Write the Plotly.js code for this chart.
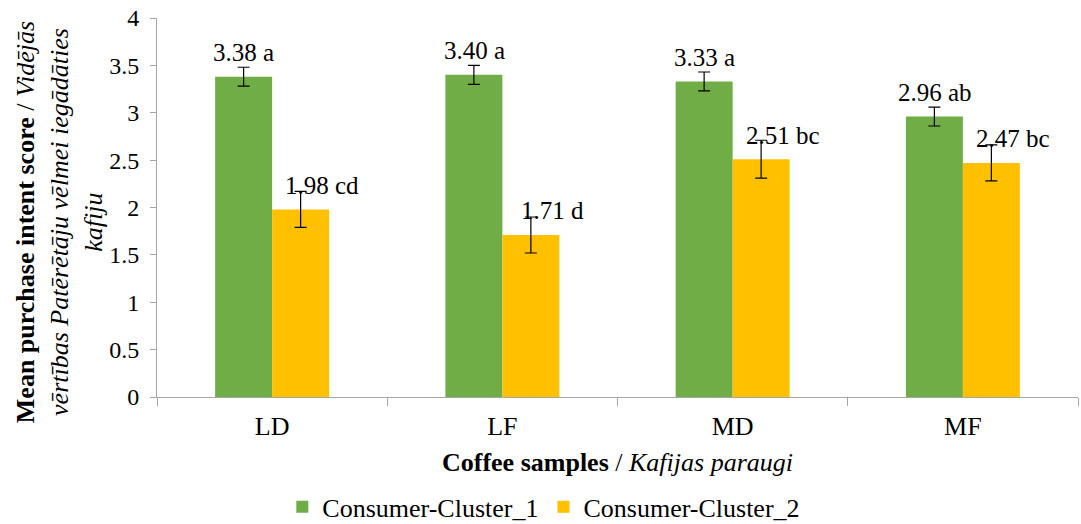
<!DOCTYPE html>
<html>
<head>
<meta charset="utf-8">
<script src="https://cdn.plot.ly/plotly-3.0.1.min.js"></script>
<style>html,body{margin:0;padding:0;background:#fff}#chart{width:1081px;height:524px}</style>
</head>
<body>
<div id="chart"></div>
<script>
const categories = ["LD", "LF", "MD", "MF"];
const seriesNames = ["Consumer-Cluster_1", "Consumer-Cluster_2"];
const cluster1 = [3.38, 3.40, 3.33, 2.96];
const cluster2 = [1.98, 1.71, 2.51, 2.47];
const cluster1Err = [0.10, 0.10, 0.10, 0.10];
const cluster2Err = [0.19, 0.19, 0.20, 0.19];
const cluster1Letters = ["a", "a", "a", "ab"];
const cluster2Letters = ["cd", "d", "bc", "bc"];
const yTicks = [0, 0.5, 1, 1.5, 2, 2.5, 3, 3.5, 4];
const yTitle = "<b>Mean purchase intent score</b> / <i>Vidējās</i><br><i>vērtības Patērētāju vēlmei iegādāties</i><br><i>kafiju</i>";

const FONT = "Liberation Serif";
const colors = ["#70AD47", "#FFC000"];

const traces = [
  {type: "bar", name: seriesNames[0], x: categories, y: cluster1,
   marker: {color: colors[0]},
   error_y: {type: "data", array: cluster1Err, visible: true, color: "#000", thickness: 1.2, width: 6}},
  {type: "bar", name: seriesNames[1], x: categories, y: cluster2,
   marker: {color: colors[1]},
   error_y: {type: "data", array: cluster2Err, visible: true, color: "#000", thickness: 1.2, width: 6}}
];

const annotations = [];
categories.forEach((c, i) => {
  annotations.push({x: i - 0.123, y: cluster1[i], xref: "x", yref: "y",
    text: cluster1[i].toFixed(2) + " " + cluster1Letters[i], showarrow: false,
    yanchor: "middle", xanchor: "center", yshift: 24,
    font: {family: FONT, size: 25, color: "#000"}});
  annotations.push({x: i + 0.123, y: cluster2[i], xref: "x", yref: "y",
    text: cluster2[i].toFixed(2) + " " + cluster2Letters[i], showarrow: false,
    yanchor: "middle", xanchor: "center", yshift: 24, xshift: 22,
    font: {family: FONT, size: 25, color: "#000"}});
});
// y-axis title, drawn as a rotated annotation so it can sit where the reference has it
annotations.push({xref: "paper", yref: "paper", x: -0.105, y: 0.462,
  xanchor: "center", yanchor: "middle", textangle: -90, align: "center",
  text: yTitle, showarrow: false, font: {family: FONT, size: 26, color: "#000"}});

const layout = {
  width: 1081, height: 524,
  margin: {l: 157, r: 3, t: 18, b: 127, autoexpand: false},
  paper_bgcolor: "#fff", plot_bgcolor: "#fff",
  font: {family: FONT, size: 24, color: "#000"},
  barmode: "group", bargap: 0.505, bargroupgap: 0,
  showlegend: true,
  legend: {orientation: "h", x: 0.42, xanchor: "center", y: -0.29, yanchor: "middle",
    font: {family: FONT, size: 26, color: "#000"}, itemwidth: 30, tracegroupgap: 0},
  xaxis: {
    type: "category", showline: true, linecolor: "#A6A6A6", linewidth: 1,
    ticks: "outside", tickson: "boundaries", ticklen: 8, tickcolor: "#A6A6A6",
    showgrid: false, zeroline: false, ticklabelstandoff: 6,
    tickfont: {family: FONT, size: 26, color: "#000"},
    title: {text: "<b>Coffee samples</b> / <i>Kafijas paraugi</i>", standoff: 12,
      font: {family: FONT, size: 26, color: "#000"}}
  },
  yaxis: {
    range: [0, 4], tickvals: yTicks, ticktext: yTicks.map(String),
    showline: true, linecolor: "#A6A6A6", linewidth: 1,
    ticks: "outside", ticklen: 6, tickcolor: "#A6A6A6",
    showgrid: false, zeroline: false, ticklabelstandoff: 6,
    tickfont: {family: FONT, size: 24, color: "#000"}
  },
  annotations: annotations
};

Plotly.newPlot("chart", traces, layout, {displayModeBar: false, staticPlot: true});
</script>
</body>
</html>
